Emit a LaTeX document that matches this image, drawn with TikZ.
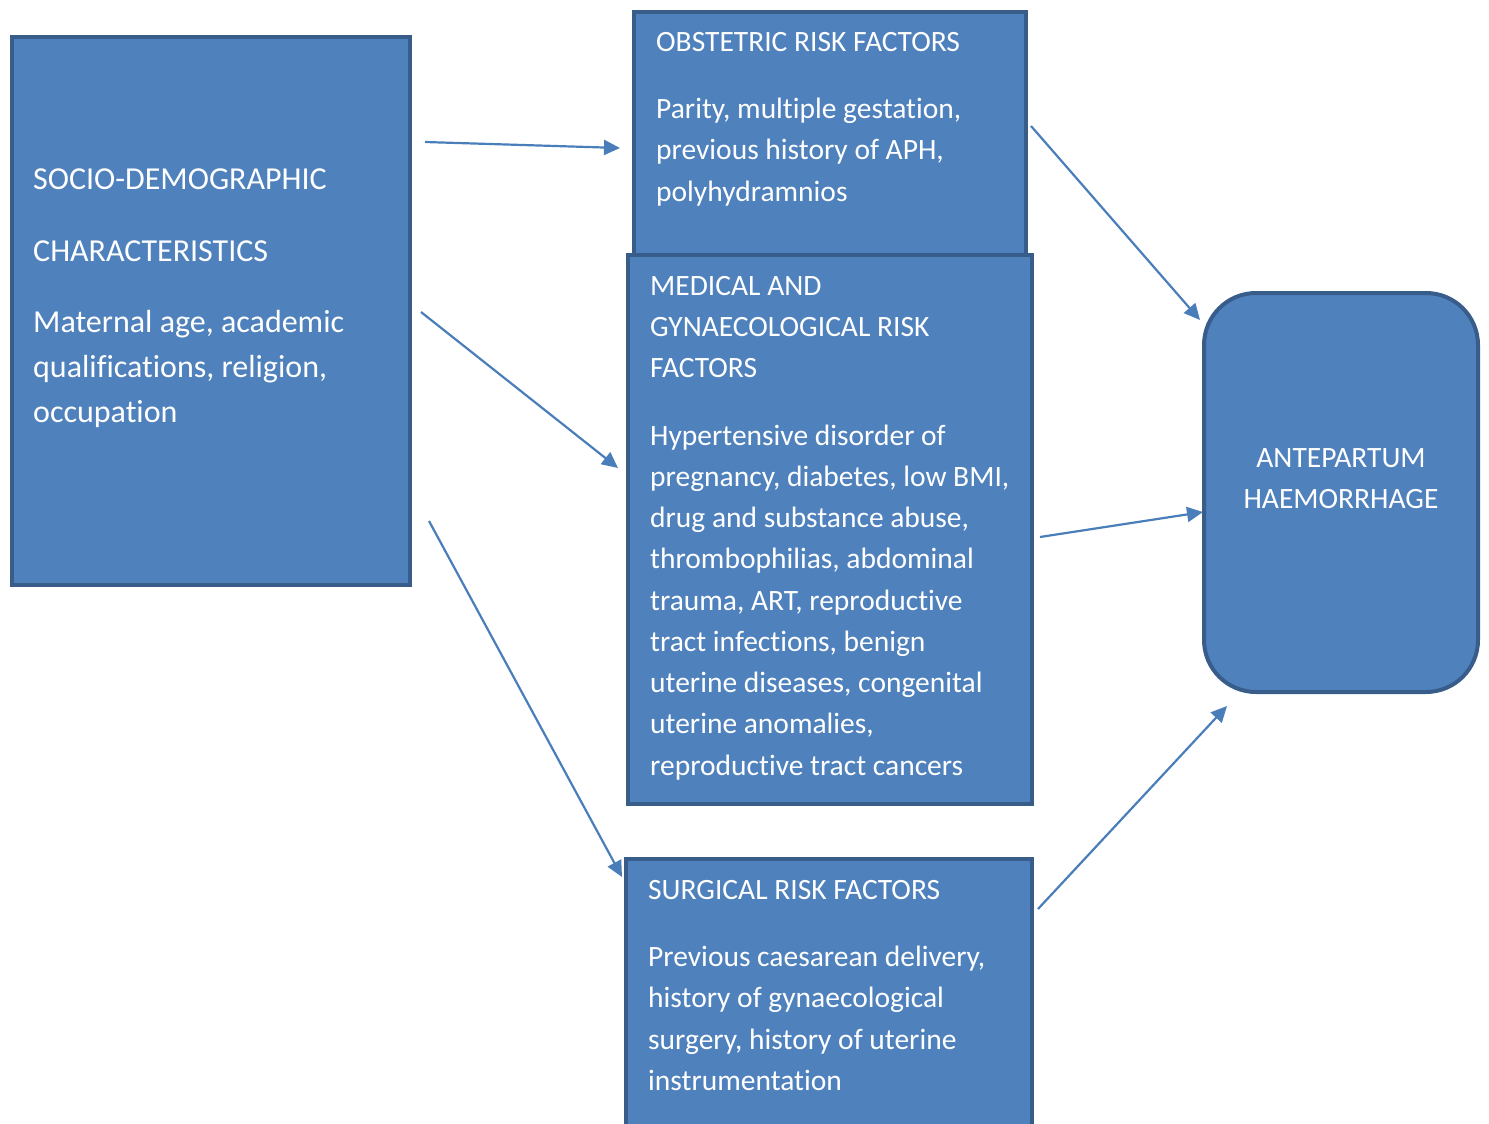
\documentclass[tikz,border=0pt]{standalone}
\usepackage{fontspec}
\setmainfont{Carlito}[Ligatures={NoCommon,NoRare,NoContextual}, Contextuals=NoAlternate, RawFeature={-clig;-rlig}]
\usetikzlibrary{positioning,calc,arrows.meta}
\definecolor{boxfill}{HTML}{4F81BD}
\definecolor{boxline}{HTML}{385D8A}
\definecolor{linkblue}{HTML}{4A7EBB}
\tikzset{
  riskbox/.style={draw=boxline, fill=boxfill, line width=4pt, outer sep=0pt, anchor=north west},
  boxtext/.style={anchor=north west, inner sep=0pt, align=left, text=white,
    font=\fontsize{29.5}{41.25}\selectfont},
  link/.style={draw=linkblue, line width=2.2pt, -{Triangle[length=16pt, width=15pt]}}
}
\begin{document}
\begin{tikzpicture}[x=1pt, y=-1pt]
    \useasboundingbox (0,0) rectangle (1489,1124);

    % Boxes
    \node[riskbox, minimum width=398pt, minimum height=548pt] (socio) at (12,37) {};
    \node[riskbox, minimum width=392pt, minimum height=250pt] (obst) at (634,12) {};
    \node[riskbox, minimum width=404pt, minimum height=549pt] (med) at (628,255) {};
    \node[riskbox, minimum width=406pt, minimum height=300pt] (surg) at (626,859) {};
    \node[riskbox, rounded corners=52pt, minimum width=274pt, minimum height=399pt] (aph) at (1204,293) {};

    % Box texts
    \node[boxtext, font=\fontsize{32}{45}\selectfont] (sociotext) at (33,169)
        {SOCIO-DEMOGRAPHIC\\[27pt] CHARACTERISTICS\\[26pt] Maternal age, academic\\ qualifications, religion,\\ occupation};
    \node[boxtext] (obsttext) at (656,32)
        {OBSTETRIC RISK FACTORS\\[26pt] Parity, multiple gestation,\\ previous history of APH,\\ polyhydramnios};
    \node[boxtext] (medtext) at (650,276)
        {MEDICAL AND\\ GYNAECOLOGICAL RISK\\ FACTORS\\[26pt] Hypertensive disorder of\\ pregnancy, diabetes, low BMI,\\ drug and substance abuse,\\ thrombophilias, abdominal\\ trauma, ART, reproductive\\ tract infections, benign\\ uterine diseases, congenital\\ uterine anomalies,\\ reproductive tract cancers};
    \node[boxtext] (surgtext) at (648,880)
        {SURGICAL RISK FACTORS\\[26pt] Previous caesarean delivery,\\ history of gynaecological\\ surgery, history of uterine\\ instrumentation};
    \node[boxtext, anchor=north, align=center] (aphtext) at (1341,448)
        {ANTEPARTUM\\ HAEMORRHAGE};

    % Arrows
    \draw[link] ($(socio.north east)+(15,105)$) -- ($(obst.north west)+(-14,136)$);
    \draw[link] ($(socio.north east)+(11,275)$) -- ($(med.north west)+(-10,213)$);
    \draw[link] ($(socio.north east)+(19,484)$) -- ($(surg.north west)+(-4,18)$);
    \draw[link] ($(obst.north east)+(5,114)$) -- ($(aph.north west)+(-4,27)$);
    \draw[link] ($(med.north east)+(8,282)$) -- ($(aph.north west)+(-1,219)$);
    \draw[link] ($(surg.north east)+(6,50)$) -- ($(aph.south west)+(23,14)$);
\end{tikzpicture}
\end{document}
